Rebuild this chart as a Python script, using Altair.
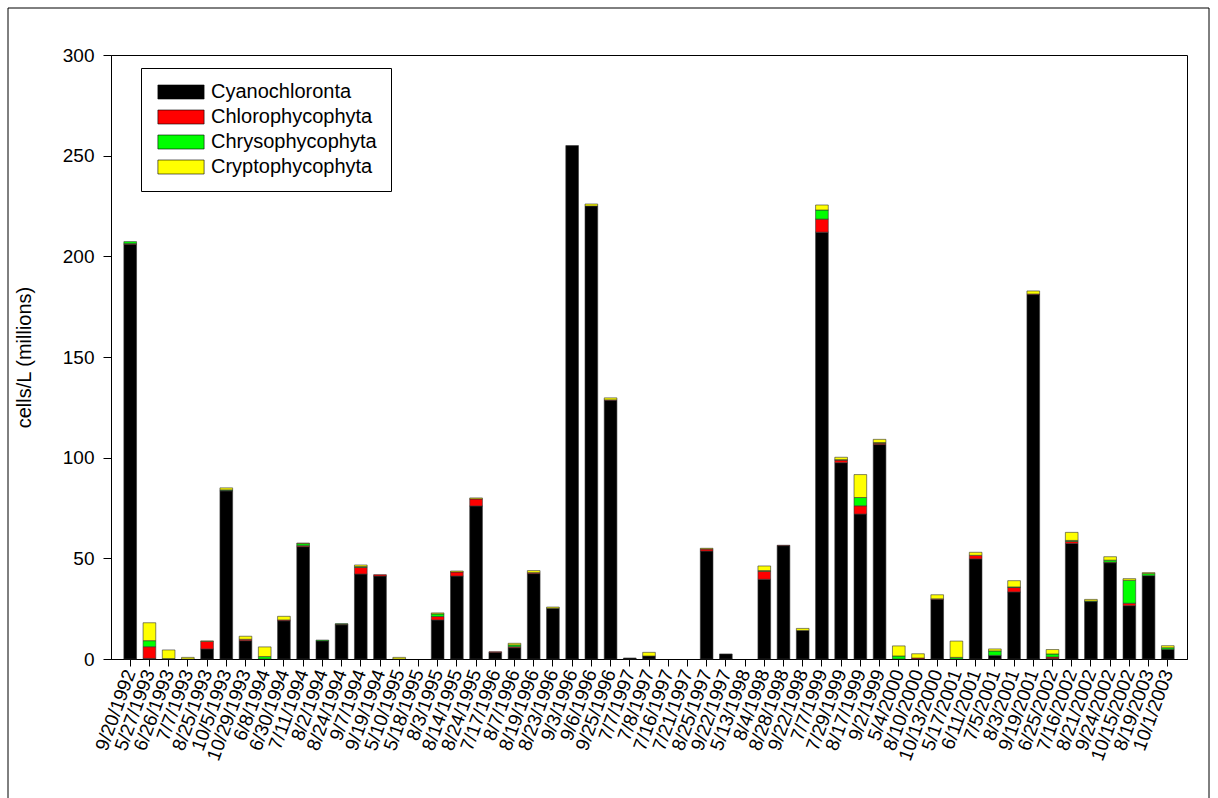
import altair as alt
import pandas as pd

dates = ["9/20/1992","5/27/1993","6/26/1993","7/7/1993","8/25/1993","10/5/1993","10/29/1993",
         "6/8/1994","6/30/1994","7/11/1994","8/2/1994","8/24/1994","9/7/1994","9/19/1994",
         "5/10/1995","5/18/1995","8/3/1995","8/14/1995","8/24/1995","7/17/1996","8/7/1996",
         "8/19/1996","8/23/1996","9/3/1996","9/6/1996","9/25/1996","7/7/1997","7/8/1997",
         "7/16/1997","7/21/1997","8/25/1997","9/22/1997","5/13/1998","8/4/1998","8/28/1998",
         "9/22/1998","7/7/1999","7/29/1999","8/17/1999","9/2/1999","5/4/2000","8/10/2000",
         "10/13/2000","5/17/2001","6/11/2001","7/5/2001","8/3/2001","9/19/2001","6/25/2002",
         "7/16/2002","8/21/2002","9/24/2002","10/15/2002","8/19/2003","10/1/2003"]

cyano = [206, 0.3, 0, 0, 5.0, 83.5, 9.1, 0, 19.0, 55.8, 9.0, 17.0, 42.2, 41.2, 0, 0, 19.4, 41.2, 76,
         3.3, 5.6, 42.4, 25.2, 255, 225, 128.5, 0.5, 1.5, 0, 0, 53.6, 2.5, 0, 39.6, 56.3, 14.2,
         212, 97.5, 72, 106.5, 0, 0, 29.6, 0, 49.7, 1.8, 33.3, 181, 0.2, 57.4, 28.5, 47.8, 26.5,
         41.4, 4.8]
chloro = [0.3, 5.8, 0, 0, 3.7, 0.2, 0.7, 0, 0.4, 0.5, 0, 0.3, 3.3, 0.7, 0, 0, 1.7, 2.0, 3.5,
          0.3, 0.5, 0.5, 0, 0, 0, 0.2, 0, 0, 0, 0, 1.0, 0, 0, 4.0, 0.2, 0,
          6.5, 1.3, 4.1, 0.7, 0, 0.5, 0.3, 0, 1.8, 0, 2.2, 0.3, 0.8, 1.0, 0, 0.3, 1.2, 0, 0]
chryso = [1.0, 3.0, 0.2, 0, 0, 0.3, 0, 1.2, 0, 1.0, 0.4, 0.2, 0.4, 0, 0, 0, 1.3, 0, 0,
          0, 0.9, 0, 0, 0, 0, 0, 0, 0, 0, 0, 0, 0, 0, 0.3, 0, 0,
          4.5, 0.2, 4.1, 0.3, 1.5, 0, 0, 0.8, 0, 2.2, 0.3, 0, 1.5, 0.5, 0.3, 1.0, 11.4, 1.0, 0.8]
crypto = [0, 8.9, 4.3, 0.8, 0.3, 1.0, 1.5, 4.8, 1.8, 0.3, 0, 0, 0.8, 0, 0.8, 0, 0.5, 0.5, 0.5,
          0, 0.8, 1.0, 0.6, 0, 1.0, 1.0, 0, 1.8, 0, 0, 0.4, 0, 0, 2.3, 0, 1.0,
          2.5, 1.2, 11.4, 1.6, 5.0, 2.1, 2.0, 8.1, 1.5, 1.0, 3.1, 1.5, 2.2, 4.0, 0.8, 1.7, 0.8, 0.5, 1.0]

groups = ["Cyanochloronta", "Chlorophycophyta", "Chrysophycophyta", "Cryptophycophyta"]
colors = ["#000000", "#FF0000", "#00FF00", "#FFFF00"]
series = [cyano, chloro, chryso, crypto]

rows = []
for k, (g, vals) in enumerate(zip(groups, series)):
    for d, v in zip(dates, vals):
        if v > 0:
            rows.append({"date": d, "group": g, "value": v, "k": k})
df = pd.DataFrame(rows)

bars = alt.Chart(df).mark_bar(stroke="#333333", strokeWidth=0.6).encode(
    x=alt.X("date:N", sort=dates,
            scale=alt.Scale(domain=dates, paddingInner=0.34, paddingOuter=0.67),
            axis=alt.Axis(title=None, labelAngle=290, labelFontSize=19, labelFont="Liberation Sans",
                          labelColor="black", tickColor="black", tickSize=7, domainColor="black",
                          labelPadding=4, labelOverlap=False)),
    y=alt.Y("value:Q", stack="zero",
            scale=alt.Scale(domain=[0, 300], nice=False),
            axis=alt.Axis(title="cells/L (millions)", values=[0, 50, 100, 150, 200, 250, 300],
                          grid=False, labelFontSize=19, labelFont="Liberation Sans",
                          labelColor="black", tickColor="black", tickSize=8, domainColor="black",
                          titleFontSize=20, titleFont="Liberation Sans", titleFontWeight="normal",
                          titleColor="black", titlePadding=28, labelPadding=9)),
    color=alt.Color("group:N", scale=alt.Scale(domain=groups, range=colors),
                    legend=alt.Legend(title=None, orient="none", legendX=30, legendY=13,
                                      strokeColor="black", fillColor="white", padding=14,
                                      labelFontSize=20, labelFont="Liberation Sans", labelColor="black",
                                      symbolType="M-3.3,-1H3.3V1H-3.3Z", symbolSize=196,
                                      symbolOffset=16,
                                      symbolStrokeColor="black", symbolStrokeWidth=0.6,
                                      symbolOpacity=1, rowPadding=5, labelOffset=20,
                                      labelLimit=300)),
    order=alt.Order("k:Q", sort="ascending"),
)

frame_top = alt.Chart(pd.DataFrame({"a": [0]})).mark_rule(color="black", strokeWidth=1).encode(
    x=alt.value(-103), x2=alt.value(1098), y=alt.value(-47))
frame_left = alt.Chart(pd.DataFrame({"a": [0]})).mark_rule(color="black", strokeWidth=1).encode(
    x=alt.value(-103), y=alt.value(-47), y2=alt.value(750))
frame_right = alt.Chart(pd.DataFrame({"a": [0]})).mark_rule(color="black", strokeWidth=1).encode(
    x=alt.value(1098), y=alt.value(-47), y2=alt.value(750))

chart = alt.layer(bars, frame_top, frame_left, frame_right).properties(
    width=1076, height=604,
    autosize=alt.AutoSizeParams(type="none"),
    padding={"left": 111, "top": 55, "right": 31, "bottom": 139},
    background="white",
).configure_view(stroke="black", strokeWidth=1)

chart.save("out.html", embed_options={"renderer": "svg", "actions": False})
